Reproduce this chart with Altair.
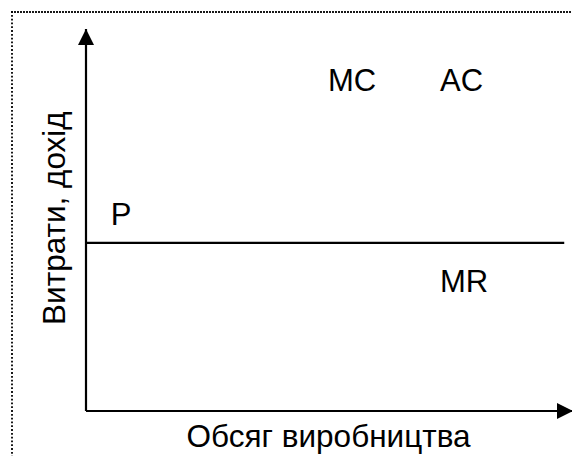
import altair as alt
import pandas as pd

# --- data (chart units: 0..100 on both axes) ---
axis_lines = pd.DataFrame({
    "x": [0, 0], "y": [0, 0], "x2": [100, 0], "y2": [0, 100],
})
price_line = pd.DataFrame({"x": [0], "y": [44], "x2": [98.2], "y2": [44]})

label_text = ["MC", "AC", "P", "MR"]
label_x = [49.7, 72.7, 5.1, 72.7]
label_y = [83.8, 83.8, 48.7, 31.2]
labels = pd.DataFrame({"t": label_text, "x": label_x, "y": label_y})

x_title = pd.DataFrame({"t": ["Обсяг виробництва"], "x": [49.8], "y": [-9.4]})
y_title = pd.DataFrame({"t": ["Витрати, дохід"], "x": [-4.3], "y": [50.5]})

arrow_x = pd.DataFrame({"x": [100], "y": [0]})
arrow_y = pd.DataFrame({"x": [0], "y": [100]})

FONT = "Liberation Sans"
xs = alt.Scale(domain=[0, 100], range=[78, 565])
ys = alt.Scale(domain=[0, 100], range=[403, 21])
X = lambda f="x": alt.X(f"{f}:Q", scale=xs, axis=None)
Y = lambda f="y": alt.Y(f"{f}:Q", scale=ys, axis=None)

frame_top = alt.Chart(pd.DataFrame({"a": [0]})).mark_rule(
    color="black", strokeWidth=1.8, strokeDash=[1.8, 1.2]
).encode(x=alt.value(3.1), x2=alt.value(572), y=alt.value(4))
frame_left = alt.Chart(pd.DataFrame({"a": [0]})).mark_rule(
    color="black", strokeWidth=1.8, strokeDash=[1.8, 2.0]
).encode(x=alt.value(4), y=alt.value(3.1), y2=alt.value(460))

axes = alt.Chart(axis_lines).mark_rule(color="black", strokeWidth=2.2).encode(
    x=X(), y=Y(), x2="x2:Q", y2="y2:Q"
)
pline = alt.Chart(price_line).mark_rule(color="black", strokeWidth=2.4).encode(
    x=X(), y=Y(), x2="x2:Q", y2="y2:Q"
)

head_x = alt.Chart(arrow_x).mark_point(
    shape="M 0 0 L -2 -1 L -2 1 Z", size=256, filled=True, color="black", opacity=1, strokeWidth=0
).encode(x=X(), y=Y())
head_y = alt.Chart(arrow_y).mark_point(
    shape="M 0 0 L -1 2 L 1 2 Z", size=256, filled=True, color="black", opacity=1, strokeWidth=0
).encode(x=X(), y=Y())

lab = alt.Chart(labels).mark_text(
    font=FONT, fontSize=31, align="left", baseline="alphabetic", color="black"
).encode(x=X(), y=Y(), text="t:N")

xt = alt.Chart(x_title).mark_text(
    font=FONT, fontSize=31.5, align="center", baseline="alphabetic", color="black"
).encode(x=X(), y=Y(), text="t:N")
yt = alt.Chart(y_title).mark_text(
    font=FONT, fontSize=31.5, align="center", baseline="alphabetic", angle=270, color="black"
).encode(x=X(), y=Y(), text="t:N")

chart = alt.layer(
    frame_top, frame_left, axes, pline, head_x, head_y, lab, xt, yt
).properties(
    width=564, height=448, padding=0, autosize="none"
).configure_view(stroke=None)

chart.save("out.html", embed_options={"renderer": "svg", "actions": False})
